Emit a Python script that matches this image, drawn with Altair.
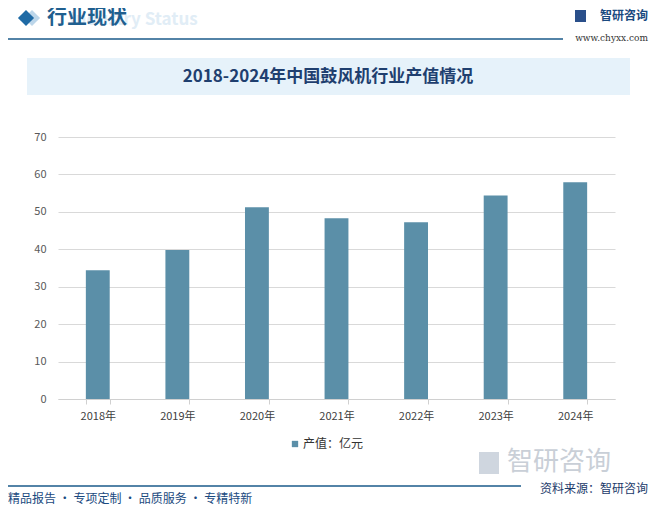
import altair as alt
import pandas as pd

years = ["2018年", "2019年", "2020年", "2021年", "2022年", "2023年", "2024年"]
values = [34.4, 39.8, 51.2, 48.3, 47.2, 54.4, 57.9]
y_ticks = [0, 10, 20, 30, 40, 50, 60, 70]
title_text = "2018-2024年中国鼓风机行业产值情况"
header_text = "行业现状"
header_en = "Industry Status"
legend_text = "产值：亿元"
footer_text = "精品报告 · 专项定制 · 品质服务 · 专精特新"
source_text = "资料来源：智研咨询"
logo_text = "智研咨询"
site_text = "www.chyxx.com"

FONT = "Noto Sans CJK SC"
BAR = "#5b8fa8"
DARK = "#1a5a8a"

df = pd.DataFrame({"year": years, "value": values})
one = alt.Data(values=[{}])

W, H = 557, 262

bars = alt.Chart(df).mark_bar(color=BAR).encode(
    x=alt.X("year:N", sort=years, title=None,
            scale=alt.Scale(paddingInner=0.7, paddingOuter=0.35),
            axis=alt.Axis(labelAngle=0, labelFont=FONT, labelFontSize=11,
                          labelColor="#404040", labelPadding=6,
                          domainColor="#d0d0d0", tickColor="#d0d0d0",
                          tickBand="extent", tickSize=5, grid=False)),
    y=alt.Y("value:Q", title=None,
            scale=alt.Scale(domain=[0, 70], nice=False),
            axis=alt.Axis(values=y_ticks, labelFont=FONT, labelFontSize=11,
                          labelColor="#595959", labelPadding=12,
                          domain=False, ticks=False,
                          gridColor="#d9d9d9", gridWidth=1)),
)


def txt(t, x, y, size=12, color="#333", weight="normal", align="left", font=FONT):
    return alt.Chart(one).mark_text(
        text=t, fontSize=size, color=color, fontWeight=weight, align=align,
        baseline="middle", font=font
    ).encode(x=alt.value(x), y=alt.value(y))


def rule(x1, x2, y, color=DARK, w=1.5):
    return alt.Chart(one).mark_rule(color=color, strokeWidth=w).encode(
        x=alt.value(x1), x2=alt.value(x2), y=alt.value(y))


title_box = alt.Chart(one).mark_rect(color="#e6f2fa").encode(
    x=alt.value(-31), x2=alt.value(572), y=alt.value(-79), y2=alt.value(-42))

diamond2 = alt.Chart(one).mark_point(shape="diamond", filled=True, size=260,
                                     color="#bcd6ea", opacity=1).encode(
    x=alt.value(-26), y=alt.value(-119))
diamond = alt.Chart(one).mark_point(shape="diamond", filled=True, size=260,
                                    color="#1f6aa5", opacity=1).encode(
    x=alt.value(-32), y=alt.value(-119))

logo_icon = alt.Chart(one).mark_rect(color="#2a4f8a").encode(
    x=alt.value(517), x2=alt.value(528), y=alt.value(-127), y2=alt.value(-115))
wm_icon = alt.Chart(one).mark_rect(color="#cfd6df").encode(
    x=alt.value(421), x2=alt.value(441), y=alt.value(315), y2=alt.value(337))

legend_sq = alt.Chart(one).mark_square(color=BAR, size=40, opacity=1).encode(
    x=alt.value(237), y=alt.value(307))

layers = [
    title_box,
    txt(header_en, 12, -117, size=17, color="#e1edf6", weight="bold"),
    diamond2, diamond,
    txt(header_text, -11, -119, size=20, color="#1f5f8f", weight="bold"),
    rule(-50, 505, -98),
    logo_icon,
    txt(logo_text, 590, -121, size=12, color="#1a4a80", weight="bold", align="right"),
    txt(site_text, 590, -99, size=9, color="#333", align="right", font="DejaVu Serif"),
    txt(title_text, 270, -60, size=17, color="#1f3f6f", weight="bold", align="center"),
    bars,
    legend_sq,
    txt(legend_text, 245, 307, size=12, color="#333"),
    wm_icon,
    txt(logo_text, 449, 325, size=26, color="#c9cfd7"),
    rule(-50, 463, 349),
    txt(source_text, 590, 352, size=12, color="#1a3a6a", align="right"),
    txt(footer_text, -50, 362, size=12, color="#1a4a80"),
]

chart = alt.layer(*layers).properties(
    width=W, height=H,
    background="white",
    autosize=alt.AutoSizeParams(type="none"),
    padding={"left": 50, "top": 129, "right": 35, "bottom": 106},
).configure_view(stroke=None)

chart.save("out.html", embed_options={"renderer": "svg", "actions": False})
